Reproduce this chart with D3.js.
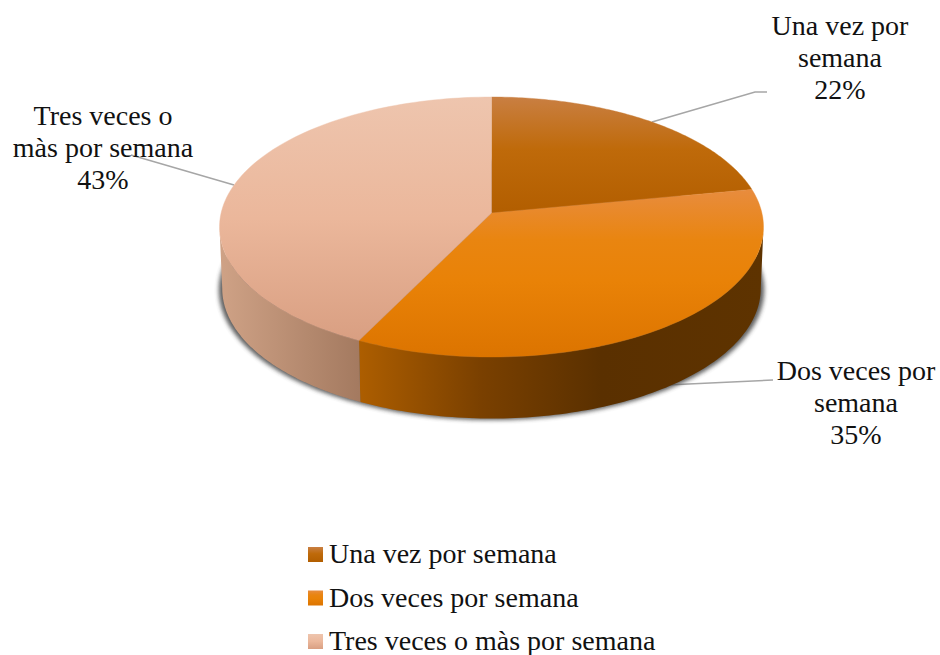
<!DOCTYPE html>
<html><head><meta charset="utf-8">
<script src="https://cdn.jsdelivr.net/npm/d3@7"></script>
<style>html,body{margin:0;padding:0;background:#fff}svg{display:block}text{font-family:"Liberation Serif",serif;fill:#111}</style>
</head><body><svg id="c" width="940" height="655"></svg>
<script>
const categories=["Una vez por semana","Dos veces por semana","Tres veces o màs por semana"];
const values=[22,35.3,42.7];
const labelLines=[["Una vez por","semana"],["Dos veces por","semana"],["Tres veces o","màs por semana"]];
const topStops=[
 [[0,"#C97F42"],[0.45,"#BF6A0A"],[1,"#B25E00"]],
 [[0,"#E88C3E"],[0.3,"#E98510"],[0.55,"#E98207"],[1,"#DC7400"]],
 [[0,"#EEC5AE"],[0.5,"#EBB79B"],[1,"#D99F82"]]];
const wallStops=[
 [[0,"#7A4000"],[1,"#5A3000"]],
 [[0,"#AD5E00"],[0.3,"#7A4000"],[0.6,"#5A3000"],[1,"#5E3300"]],
 [[0,"#CFA286"],[1,"#A47A60"]]];
const svg=d3.select("#c"),defs=svg.append("defs");
const cx=491.5,cy=213,A=270.4,B=128.5,k=0.1077,depth=61.5,bottomScale=0.99;
const proj=(a,drop=0,sc=1)=>{const u=Math.sin(a),v=Math.cos(a),w=1+k*v;
  return [cx+sc*A*u/w,cy-B*v/w+drop];};
const pie=d3.pie().sort(null).value(d=>d)(values);
const samples=(a0,a1)=>d3.range(0,101).map(i=>a0+(a1-a0)*i/100);
const line=d3.line();
const grad=(id,stops,attrs)=>{const g=defs.append("linearGradient").attr("id",id);
  Object.entries(attrs).forEach(([n,v])=>g.attr(n,v));
  stops.forEach(s=>g.append("stop").attr("offset",s[0]).attr("stop-color",s[1]));};
defs.append("filter").attr("id","blur").attr("x","-10%").attr("y","-10%").attr("width","120%").attr("height","120%")
  .append("feGaussianBlur").attr("stdDeviation",2);

// leader lines
const leaders=[[[652,122],[755,92],[767,92]],[[667,385],[773,380]],[[234,185],[131,155]]];
svg.selectAll(".lead").data(leaders).join("path").attr("fill","none").attr("stroke","#A6A6A6").attr("stroke-width",1.5).attr("d",d=>line(d));

// shadow
svg.append("path").attr("fill","#444").attr("opacity",0.85).attr("filter","url(#blur)")
  .attr("d",line(samples(0,2*Math.PI).map(a=>proj(a,depth+1.5,1.003)))+"Z");

// walls: only the front-facing arc of each slice, between the two silhouette angles
const tangent=Math.acos(-k);
const frontMin=tangent,frontMax=2*Math.PI-tangent;
pie.forEach((d,i)=>{
  const a0=Math.max(d.startAngle,frontMin),a1=Math.min(d.endAngle,frontMax);
  if(a1<=a0) return;
  const top=samples(a0,a1).map(a=>proj(a,0,1));
  const bot=samples(a1,a0).map(a=>proj(a,depth,bottomScale));
  const xs=i===2?[219.5,359]:[359,763.5];
  grad("w"+i,wallStops[i],{gradientUnits:"userSpaceOnUse",x1:xs[0],x2:xs[1],y1:0,y2:0});
  svg.append("path").attr("fill",`url(#w${i})`).attr("d",line(top.concat(bot))+"Z");
});

// tops
pie.forEach((d,i)=>{
  const pts=[[cx,cy]].concat(samples(d.startAngle,d.endAngle).map(a=>proj(a)));
  const ys=pts.map(p=>p[1]);
  grad("t"+i,topStops[i],{gradientUnits:"userSpaceOnUse",x1:0,x2:0,y1:d3.min(ys),y2:d3.max(ys)});
  svg.append("path").attr("fill",`url(#t${i})`).attr("stroke",`url(#t${i})`).attr("stroke-width",0.4).attr("d",line(pts)+"Z");
});

// labels
const labelX=[840,856,103],labelY=[35,380,125];
labelLines.forEach((ls,i)=>{
  const t=svg.append("text").attr("text-anchor","middle").attr("font-size",28);
  ls.concat([Math.round(values[i])+"%"]).forEach((s,j)=>t.append("tspan").attr("x",labelX[i]).attr("y",labelY[i]+j*32).text(s));
});

// legend
categories.forEach((c,i)=>{
  grad("l"+i,topStops[i],{x1:0,x2:0,y1:0,y2:1});
  const y=547+i*43.5;
  svg.append("rect").attr("x",308).attr("y",y).attr("width",15).attr("height",15).attr("fill",`url(#l${i})`);
  svg.append("text").attr("x",329).attr("y",y+16).attr("font-size",28).text(c);
});
</script></body></html>
